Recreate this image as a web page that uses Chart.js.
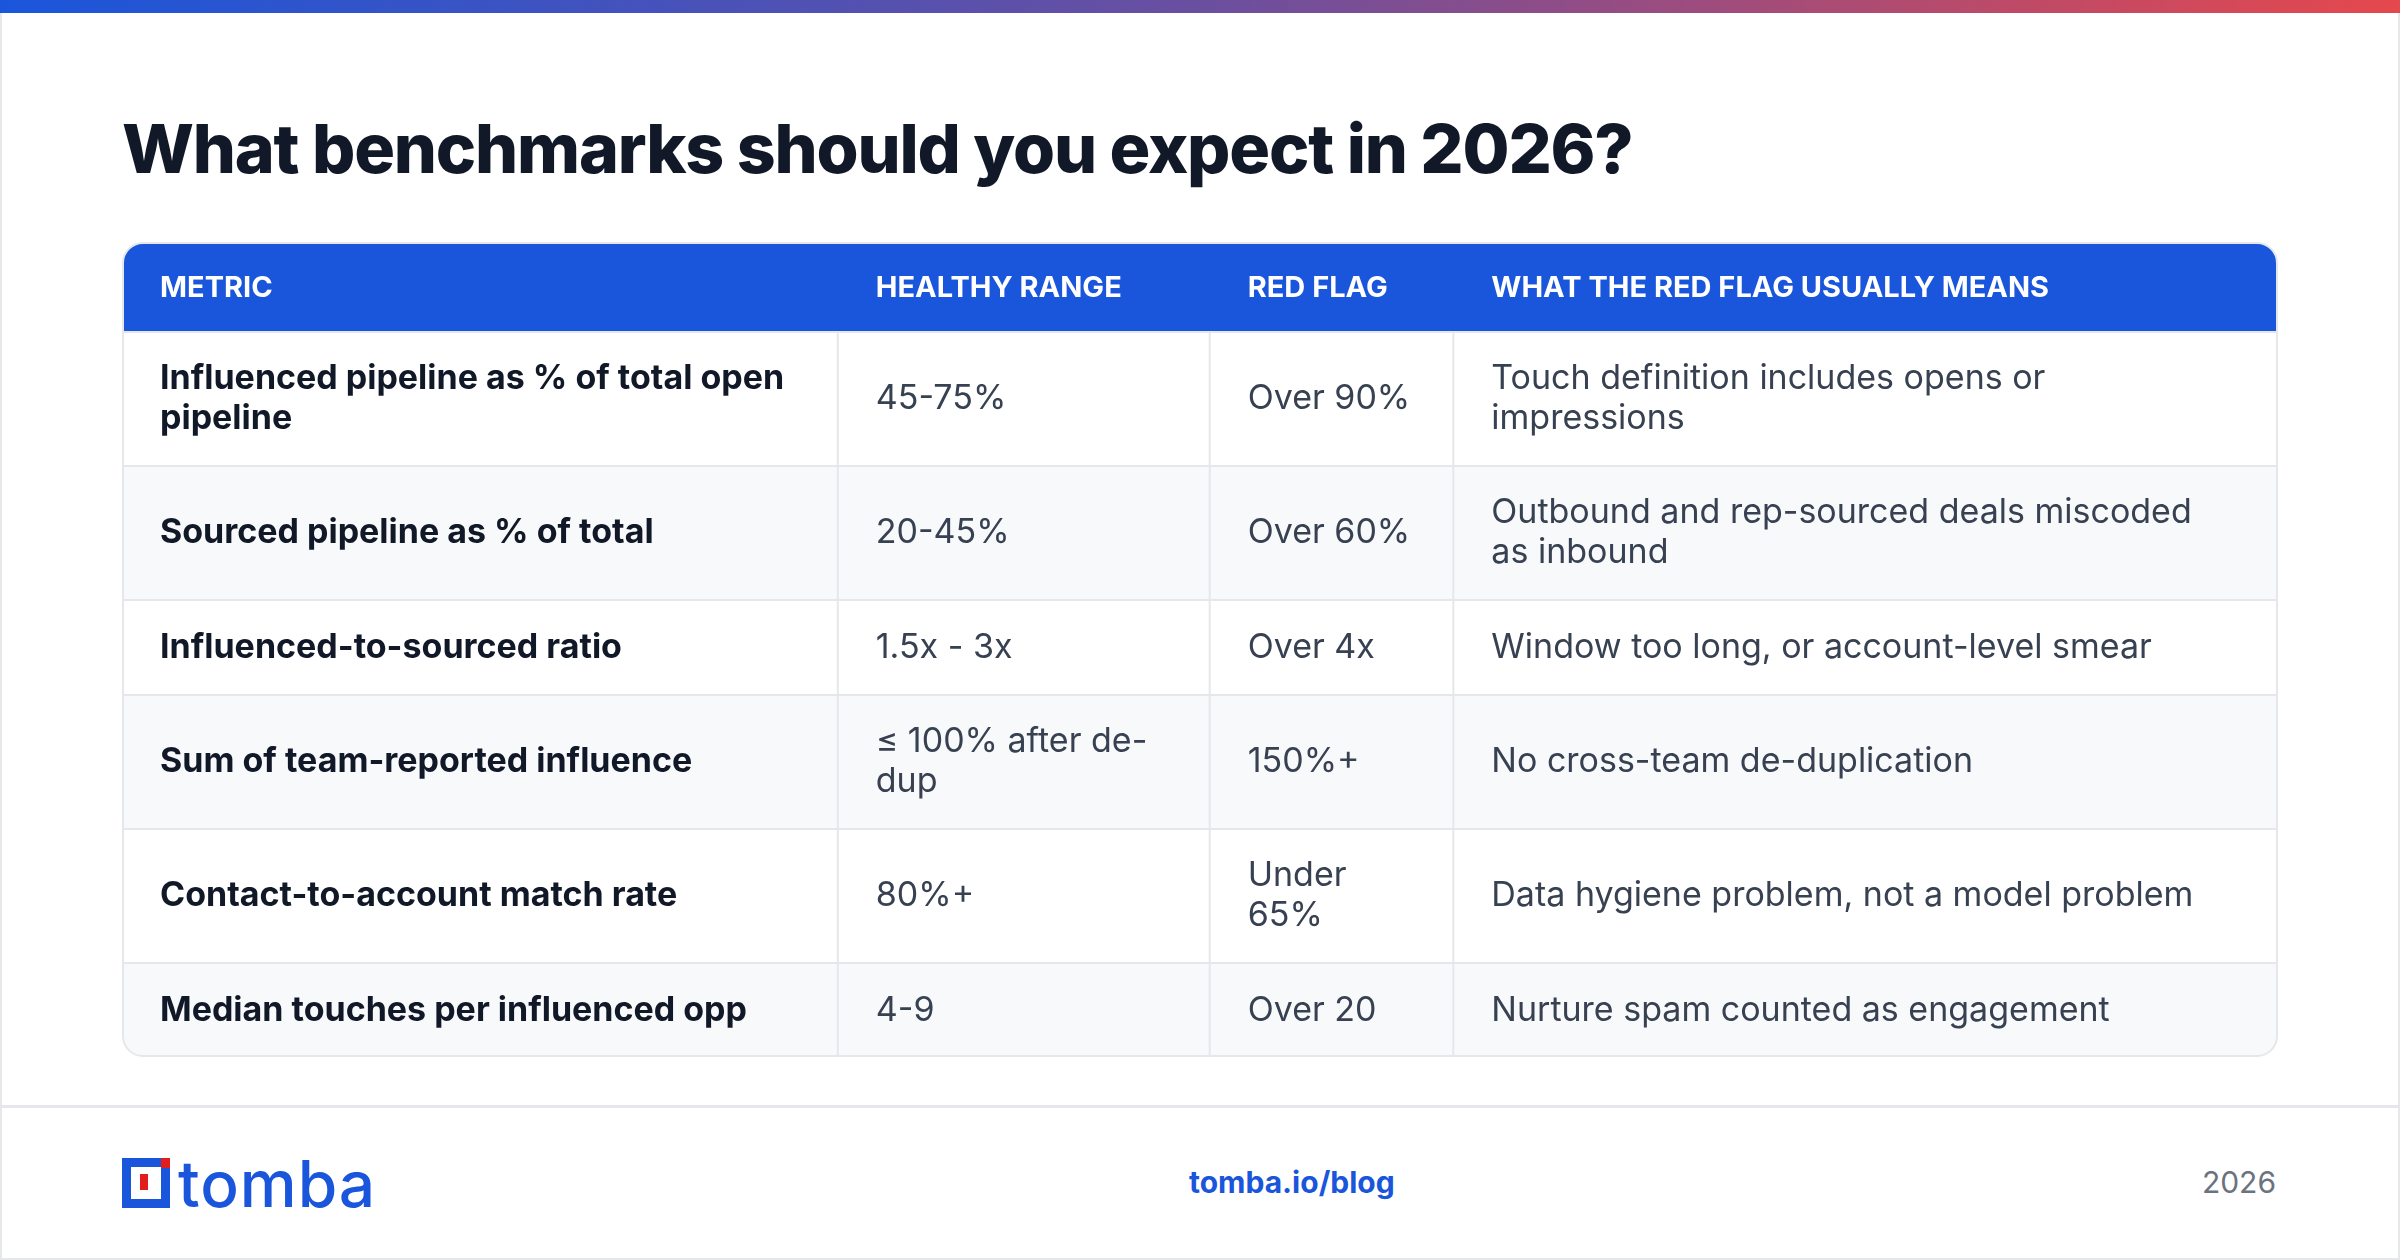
<!DOCTYPE html>
<html><head><meta charset="utf-8">
<script src="https://cdn.jsdelivr.net/npm/chart.js@4"></script>
<style>
html,body{margin:0;padding:0;width:2400px;height:1260px;background:#fff;overflow:hidden;font-family:Inter,"Noto Sans",sans-serif}
#frame{position:absolute;left:0;top:0;width:2396px;height:1256px;border:2px solid #e5e7eb}
#bar{position:absolute;left:0;top:0;width:2400px;height:13px;background:linear-gradient(90deg,#1a56db 0%,#6a4fa0 50%,#e5484d 100%)}
#title{position:absolute;left:122px;top:107px;font-size:68px;font-weight:800;color:#111827;letter-spacing:-1.2px;white-space:nowrap}
#wrap{position:absolute;left:122px;top:242px;width:2156px;height:816px}
#sep{position:absolute;left:0;top:1105px;width:2400px;height:3px;background:#e5e7eb}
#url{position:absolute;left:1189px;width:200px;top:1164px;text-align:center;font-size:30px;font-weight:700;color:#1a56db}
#year{position:absolute;right:124px;top:1164px;font-size:30px;color:#6b7280}
#logo{position:absolute;left:122px;top:1154px;height:56px;display:flex;align-items:flex-end}
#logo .mark{position:relative;width:48px;height:50px;margin-bottom:2px}
#logo .word{font-size:64px;font-weight:500;color:#1a56db;line-height:52px;letter-spacing:1px;margin-left:8px}
</style></head><body>
<div id="frame"></div><div id="bar"></div>
<div id="title">What benchmarks should you expect in 2026?</div>
<div id="wrap"><canvas id="c"></canvas></div>
<div id="sep"></div>
<div id="logo"><div class="mark">
<div style="position:absolute;left:0;top:0;width:48px;height:50px;background:#1a56db"></div>
<div style="position:absolute;left:9px;top:9px;width:30px;height:32px;background:#fff"></div>
<div style="position:absolute;left:18px;top:16px;width:8px;height:16px;background:#e11d1d"></div>
<div style="position:absolute;left:39px;top:0;width:9px;height:10px;background:#e11d1d"></div>
</div><div class="word">tomba</div></div>
<div id="url">tomba.io/blog</div>
<div id="year">2026</div>
<script>
const headers = ["METRIC","HEALTHY RANGE","RED FLAG","WHAT THE RED FLAG USUALLY MEANS"];
const metrics = ["Influenced pipeline as % of total open pipeline","Sourced pipeline as % of total","Influenced-to-sourced ratio","Sum of team-reported influence","Contact-to-account match rate","Median touches per influenced opp"];
const healthy = ["45-75%","20-45%","1.5x - 3x","\u2264 100% after de-dup","80%+","4-9"];
const redFlags = ["Over 90%","Over 60%","Over 4x","150%+","Under 65%","Over 20"];
const meanings = ["Touch definition includes opens or impressions","Outbound and rep-sourced deals miscoded as inbound","Window too long, or account-level smear","No cross-team de-duplication","Data hygiene problem, not a model problem","Nurture spam counted as engagement"];
const colEdges = [0, 33.2, 50.45, 61.75, 100];
const rightPad = [40, 50, 30, 45];
const rowHeights = [90, 134, 134, 95, 134, 134, 95];

const cols = [metrics, healthy, redFlags, meanings];
const total = rowHeights.reduce((a,b)=>a+b,0);
const bounds=[0]; rowHeights.forEach(h=>bounds.push(bounds[bounds.length-1]+h));

function wrap(ctx,text,maxW){
  const tokens=text.split(' '); const lines=[]; let cur='';
  for(const t of tokens){
    const test=cur?cur+' '+t:t;
    if(ctx.measureText(test).width<=maxW){cur=test;continue;}
    if(t.includes('-')){
      const i=t.indexOf('-')+1; const a=(cur?cur+' ':'')+t.slice(0,i);
      if(ctx.measureText(a).width<=maxW){lines.push(a);cur=t.slice(i);continue;}
    }
    if(cur)lines.push(cur); cur=t;
  }
  if(cur)lines.push(cur); return lines;
}
function rr(ctx,x,y,w,h,r){ctx.beginPath();ctx.moveTo(x+r,y);ctx.arcTo(x+w,y,x+w,y+h,r);ctx.arcTo(x+w,y+h,x,y+h,r);ctx.arcTo(x,y+h,x,y,r);ctx.arcTo(x,y,x+w,y,r);ctx.closePath();}

const tablePlugin={id:'table',afterDraw(chart){
  const ctx=chart.ctx, xs=chart.scales.x, ys=chart.scales.y;
  const X=v=>xs.getPixelForValue(v), Y=v=>ys.getPixelForValue(v);
  const L=X(0)+1,R=X(100)-1,T=Y(0)+1,B=Y(total)-2;
  ctx.save();
  rr(ctx,L,T,R-L,B-T,20); ctx.clip();
  ctx.fillStyle='#fff';ctx.fillRect(L,T,R-L,B-T);
  for(let r=0;r<rowHeights.length;r++){
    ctx.fillStyle = r===0?'#1a56db':(r%2===0?'#f8f9fb':'#ffffff');
    ctx.fillRect(L,Y(bounds[r]),R-L,Y(bounds[r+1])-Y(bounds[r]));
  }
  ctx.strokeStyle='#e5e7eb';ctx.lineWidth=2;
  for(let r=1;r<rowHeights.length;r++){ctx.beginPath();ctx.moveTo(L,Y(bounds[r]));ctx.lineTo(R,Y(bounds[r]));ctx.stroke();}
  for(let c=1;c<colEdges.length-1;c++){ctx.beginPath();ctx.moveTo(X(colEdges[c]),Y(bounds[1]));ctx.lineTo(X(colEdges[c]),B);ctx.stroke();}
  ctx.textBaseline='middle';
  ctx.font='700 29px Inter';ctx.fillStyle='#fff';
  headers.forEach((h,c)=>ctx.fillText(h,X(colEdges[c])+38,(Y(bounds[0])+Y(bounds[1]))/2+1));
  for(let r=0;r<metrics.length;r++){
    const cy=(Y(bounds[r+1])+Y(bounds[r+2]))/2;
    cols.forEach((arr,c)=>{
      ctx.font=c===0?'700 34px Inter':'400 34px Inter';
      ctx.fillStyle=c===0?'#111827':'#374151';
      const x0=X(colEdges[c])+38, maxW=X(colEdges[c+1])-X(colEdges[c])-38-rightPad[c];
      const lines=wrap(ctx,arr[r],maxW);
      lines.forEach((ln,i)=>ctx.fillText(ln,x0,cy+(i-(lines.length-1)/2)*40));
    });
  }
  ctx.restore();
  ctx.strokeStyle='#e5e7eb';ctx.lineWidth=2;rr(ctx,L,T,R-L,B-T,20);ctx.stroke();
}};

new Chart(document.getElementById('c'),{
  type:'bar',
  data:{datasets:[{data:[]}]},
  options:{responsive:true,maintainAspectRatio:false,animation:false,
    layout:{padding:0},
    plugins:{legend:{display:false},tooltip:{enabled:false}},
    scales:{x:{type:'linear',min:0,max:100,offset:false,display:false},y:{type:'linear',min:0,max:total,reverse:true,offset:false,display:false}}},
  plugins:[tablePlugin]
});
</script></body></html>
